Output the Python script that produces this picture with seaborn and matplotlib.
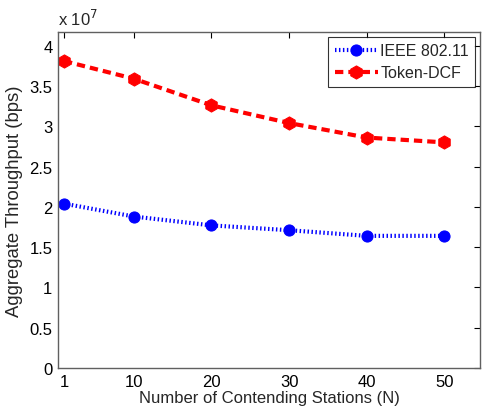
import matplotlib
matplotlib.use("Agg")
import matplotlib.pyplot as plt
import seaborn as sns
import pandas as pd

stations = [1, 10, 20, 30, 40, 50]
ieee = [2.04, 1.88, 1.77, 1.71, 1.64, 1.64]
token = [3.81, 3.59, 3.26, 3.04, 2.86, 2.80]
x_ticks = [1, 10, 20, 30, 40, 50]
y_ticks = [0, 0.5, 1, 1.5, 2, 2.5, 3, 3.5, 4]
y_tick_labels = ["0", "0.5", "1", "1.5", "2", "2.5", "3", "3.5", "4"]

sns.set_theme(style="white")
plt.rcParams['font.family'] = ['Liberation Sans', 'DejaVu Sans']

fig = plt.figure(figsize=(4.82, 4.14), dpi=100)
ax = fig.add_axes([58/482, 45/414, 422/482, 336/414])

df_i = pd.DataFrame({"N": stations, "T": ieee})
df_t = pd.DataFrame({"N": stations, "T": token})
sns.lineplot(data=df_i, x="N", y="T", ax=ax, color="#0000ff", linestyle=(0, (0.35, 0.6)),
             linewidth=3.0, marker="o", markersize=8, markeredgecolor="#0000ff",
             dash_capstyle="butt", label="IEEE 802.11")
sns.lineplot(data=df_t, x="N", y="T", ax=ax, color="#ff0000", linestyle=(0, (2.0, 1.2)),
             linewidth=3.0, marker="h", markersize=9.5, markeredgecolor="#ff0000",
             dash_capstyle="butt", label="Token-DCF")

ax.set_xlim(0.23, 54.6)
ax.set_ylim(0, 4.17)
ax.set_xticks(x_ticks)
ax.set_yticks(y_ticks)
ax.set_yticklabels(y_tick_labels)
ax.tick_params(direction="in", length=4, width=0.8, top=True, right=True,
               labelsize=12, colors="black", pad=4)
for s in ax.spines.values():
    s.set_color("#606060")
    s.set_linewidth(1.0)
ax.set_xlabel("Number of Contending Stations (N)", fontsize=12, labelpad=1)
ax.set_ylabel("Aggregate Throughput (bps)", fontsize=13.3)
ax.yaxis.set_label_coords(-0.082, 0.5)
ax.text(0.0, 1.012, r"x 10$^7$", transform=ax.transAxes, fontsize=12, ha="left", va="bottom")

leg = ax.legend(loc="upper right", fontsize=11.5, frameon=True, fancybox=False,
                borderaxespad=0.3, handlelength=2.7, handletextpad=0.15,
                borderpad=0.4, labelspacing=0.45)
leg.get_frame().set_edgecolor("black")
leg.get_frame().set_linewidth(0.8)

fig.savefig("out.png", dpi=100)
